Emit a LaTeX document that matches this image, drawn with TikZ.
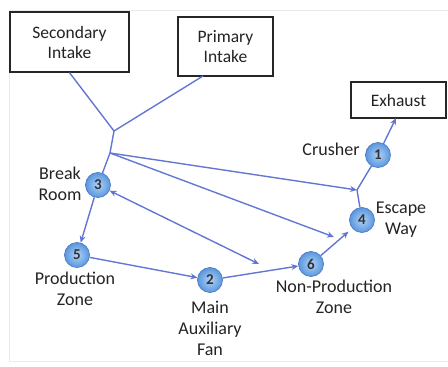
\documentclass[tikz,border=0pt]{standalone}
\usepackage{fontspec}
\setmainfont{Carlito}
\usetikzlibrary{arrows.meta,calc}
\definecolor{edgecol}{RGB}{100,118,210}
\definecolor{ballin}{RGB}{175,210,248}
\definecolor{ballout}{RGB}{90,150,220}
\definecolor{balledge}{RGB}{75,125,200}
\definecolor{txt}{RGB}{35,35,35}
\tikzset{
  lbl/.style={font=\fontsize{18}{21}\selectfont, text=txt, align=center, inner sep=0pt},
  boxnode/.style={draw=black!85, line width=1.3pt, fill=white, font=\fontsize{17.5}{20}\selectfont, text=txt, align=center, inner sep=0pt},
  ball/.style={circle, shading=radial, inner color=ballin, outer color=ballout, draw=balledge, line width=0.7pt, minimum size=25pt, inner sep=0pt, font=\fontsize{15}{15}\selectfont\bfseries, text=black!80},
  flow/.style={draw=edgecol, line width=1.4pt},
  tip/.style={-{Stealth[length=7pt,width=6pt]}},
  frame/.style={draw=black!8, line width=1pt}
}
\begin{document}
\begin{tikzpicture}[x=1pt,y=-1pt]
\useasboundingbox (0,0) rectangle (448,367);
% faint frame
\draw[frame] (448,10) -- (9,10) -- (9,361) -- (448,361);
% boxes
\node[boxnode, minimum width=119pt, minimum height=60pt] (sec) at (69.5,42) {Secondary\\Intake};
\node[boxnode, minimum width=95pt, minimum height=59pt] (pri) at (225.5,46.5) {Primary\\Intake};
\node[boxnode, minimum width=95pt, minimum height=36pt] (exh) at (398.5,100) {Exhaust};
% ball nodes
\node[ball] (n3) at (98,185) {3};
\node[ball] (n5) at (77,255) {5};
\node[ball] (n2) at (210,280) {2};
\node[ball] (n6) at (311,264) {6};
\node[ball] (n4) at (362,220) {4};
\node[ball] (n1) at (378,155) {1};
% coordinates
\coordinate (j1) at (114,131);
\coordinate (hub) at (110,153);
\coordinate (priout) at (203,76);
\coordinate (j2) at (357,190);
\coordinate (e1) at (334,237);
\coordinate (e2) at (259,264);
\coordinate (exin) at (396,118);
% connectors
\draw[flow] (sec.south) -- (j1);
\draw[flow] (priout) -- (j1);
\draw[flow] (j1) -- (hub) -- (n3);
\draw[flow,tip] (hub) -- (j2);
\draw[flow,tip] (hub) -- (e1);
\draw[flow,{Stealth[length=7pt,width=6pt]}-{Stealth[length=7pt,width=6pt]}] (n3) -- (e2);
\draw[flow,tip] (n3) -- (n5);
\draw[flow,tip] (n5) -- (n2);
\draw[flow,tip] (n2) -- (n6);
\draw[flow,tip,shorten >=5pt] (n6) -- (n4);
\draw[flow] (n4) -- (j2) -- (n1);
\draw[flow,tip] (n1) -- (exin);
% labels
\node[lbl] (lcr) at (331,149) {Crusher};
\node[lbl] (lbr) at (60,184) {Break\\Room};
\node[lbl] (les) at (401,220) {Escape\\Way};
\node[lbl] (lpz) at (75,289) {Production\\Zone};
\node[lbl] (lmf) at (210,328) {Main\\Auxiliary\\Fan};
\node[lbl] (lnp) at (334,297) {Non-Production\\Zone};
\end{tikzpicture}
\end{document}
